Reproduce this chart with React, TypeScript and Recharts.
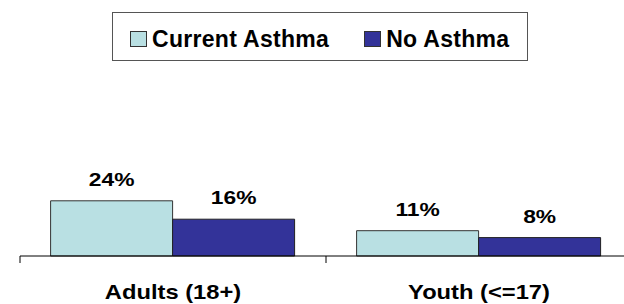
import React from "react";
import { BarChart, Bar, XAxis, YAxis, Legend, LabelList } from "recharts";

const categories = ["Adults (18+)", "Youth (<=17)"];
const currentAsthma = [24, 11];
const noAsthma = [16, 8];
const seriesNames = ["Current Asthma", "No Asthma"];

const data = categories.map((c, i) => ({
  name: c,
  current: currentAsthma[i],
  none: noAsthma[i],
}));

const FONT = '"Liberation Sans", Arial, Helvetica, sans-serif';

const CategoryTick = (props: any) => {
  const { x, y, payload, index, visibleTicksCount } = props;
  const off = payload && payload.offset ? payload.offset : 0;
  const isLast = index === visibleTicksCount - 1;
  return (
    <g>
      <line x1={x - off} x2={x - off} y1={y} y2={y + 7} stroke="#000" strokeWidth={1} />
      {isLast && <line x1={x + off} x2={x + off} y1={y} y2={y + 7} stroke="#000" strokeWidth={1} />}
      <text
        transform={`translate(${x},${y + 43}) scale(1.13,1)`}
        textAnchor="middle"
        fontFamily={FONT}
        fontWeight="bold"
        fontSize={21}
        fill="#000"
      >
        {payload.value}
      </text>
    </g>
  );
};

const ValueLabel = (props: any) => {
  const { x, y, width, value } = props;
  return (
    <text
      transform={`translate(${x + width / 2},${y - 15}) scale(1.2,1)`}
      textAnchor="middle"
      fontFamily={FONT}
      fontWeight="bold"
      fontSize={19}
      fill="#000"
    >
      {`${value}%`}
    </text>
  );
};

const LegendBox = (props: any) => {
  const { payload } = props;
  return (
    <div
      style={{
        boxSizing: "border-box",
        width: 416,
        height: 49,
        border: "1.5px solid #555",
        background: "#fff",
        display: "flex",
        alignItems: "center",
        paddingLeft: 17,
        paddingTop: 5,
        fontFamily: FONT,
        fontWeight: "bold",
        fontSize: 23,
        letterSpacing: "0.3px",
        color: "#000",
      }}
    >
      {(payload || []).map((p: any, i: number) => (
        <div key={i} style={{ display: "flex", alignItems: "center", marginRight: i === 0 ? 35 : 0 }}>
          <span
            style={{
              display: "inline-block",
              boxSizing: "border-box",
              width: 17,
              height: 16,
              background: p.color,
              border: "1px solid #333",
              marginRight: 5,
            }}
          />
          <span style={{ lineHeight: "23px" }}>{p.value}</span>
        </div>
      ))}
    </div>
  );
};

export default function App() {
  return (
    <div
      style={{
        position: "absolute",
        left: 0,
        top: 0,
        width: 624,
        height: 304,
        overflow: "hidden",
        background: "#fff",
      }}
    >
      <BarChart
        width={640}
        height={304}
        data={data}
        margin={{ top: 118, right: 8, left: 20, bottom: 0 }}
        barCategoryGap="10%"
        barGap={0}
      >
        <XAxis
          dataKey="name"
          height={48}
          tickSize={0}
          tickMargin={0}
          tickLine={false}
          axisLine={{ stroke: "#000", strokeWidth: 1 }}
          tick={<CategoryTick />}
          interval={0}
        />
        <YAxis hide domain={[0, 60]} />
        <Legend
          verticalAlign="middle"
          align="center"
          layout="horizontal"
          wrapperStyle={{ top: 12, left: 112, width: 416, height: 49 }}
          content={<LegendBox />}
        />
        <Bar
          dataKey="current"
          name={seriesNames[0]}
          fill="#B9E0E3"
          stroke="#333"
          strokeWidth={1}
          isAnimationActive={false}
        >
          <LabelList dataKey="current" content={<ValueLabel />} />
        </Bar>
        <Bar
          dataKey="none"
          name={seriesNames[1]}
          fill="#333399"
          stroke="#222"
          strokeWidth={1}
          isAnimationActive={false}
        >
          <LabelList dataKey="none" content={<ValueLabel />} />
        </Bar>
      </BarChart>
    </div>
  );
}
